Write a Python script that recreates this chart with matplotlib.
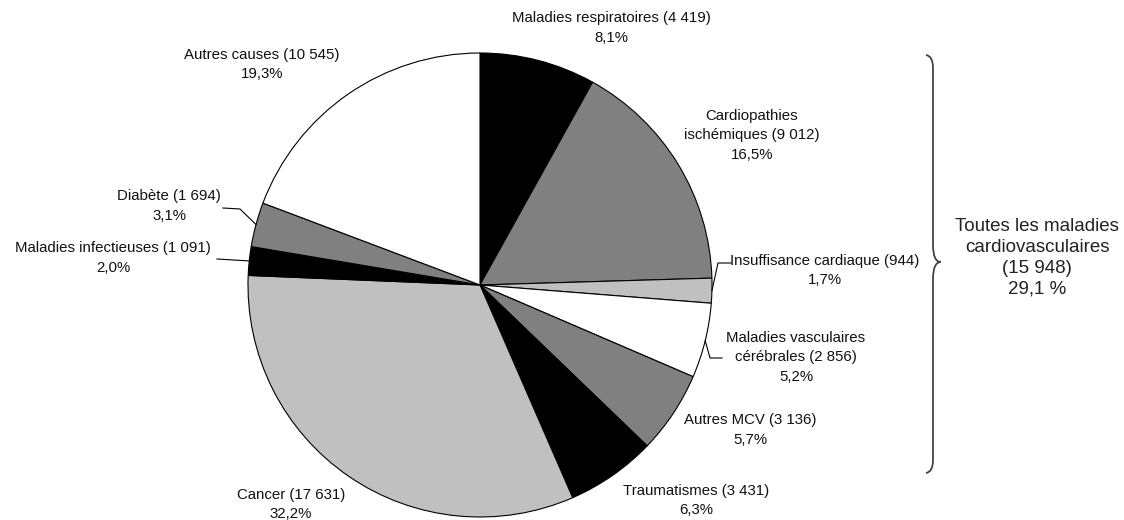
import numpy as np
import matplotlib
matplotlib.use('Agg')
from matplotlib import pyplot as plt
from matplotlib.path import Path
from matplotlib.patches import PathPatch

# data, clockwise from the top
causes = ['Maladies respiratoires', 'Cardiopathies\nischémiques', 'Insuffisance cardiaque',
          'Maladies vasculaires\ncérébrales', 'Autres MCV', 'Traumatismes', 'Cancer',
          'Maladies infectieuses', 'Diabète', 'Autres causes']
deaths = [4419, 9012, 944, 2856, 3136, 3431, 17631, 1091, 1694, 10545]
colors = ['#000000', '#808080', '#c0c0c0', '#ffffff', '#808080', '#000000', '#c0c0c0',
          '#000000', '#808080', '#ffffff']
cvd_total = '(15 948)'
cvd_pct = '29,1 %'

W, H = 1124, 520
fig = plt.figure(figsize=(W / 100, H / 100), dpi=100)
ax = fig.add_axes([0, 0, 1, 1])
ax.axis('off')

# pie geometry in pixels (y measured from top)
cx, cy, r = 480, 285, 232
wedges, _ = ax.pie(deaths, colors=colors, startangle=90, counterclock=False,
                   center=(cx, H - cy), radius=r,
                   wedgeprops=dict(edgecolor='black', linewidth=0.8))
ax.set_xlim(0, W)
ax.set_ylim(0, H)
ax.set_aspect('equal')

total = sum(deaths)

def fmt_num(v):
    return '{:,}'.format(v).replace(',', ' ')

def fmt_pct(v):
    return ('%.1f' % (100.0 * v / total)).replace('.', ',') + '%'

# label positions (x, y of first line centre, pixels from top)
label_pos = [(611, 20), (752, 118), (825, 263), (796, 340), (750, 422),
             (696, 493), (291, 497), (113, 250), (169, 198), (262, 57)]
for name, v, (lx, ly) in zip(causes, deaths, label_pos):
    txt = name + ' (' + fmt_num(v) + ')\n' + fmt_pct(v)
    ax.text(lx, H - ly + 9, txt, ha='center', va='top', fontsize=10.8,
            family='Liberation Sans', linespacing=1.5, color='#111111')

# leader lines for the small slices
leaders = {2: [(718, 263), (731, 263)],
           3: [(710, 358), (722, 358)],
           7: [(217, 259)],
           8: [(240, 209), (223, 208)]}
for i, pts in leaders.items():
    w = wedges[i]
    mid = np.deg2rad((w.theta1 + w.theta2) / 2)
    ex = cx + r * np.cos(mid)
    ey = (H - cy) + r * np.sin(mid)
    xs = [ex] + [p[0] for p in pts]
    ys = [ey] + [H - p[1] for p in pts]
    ax.plot(xs, ys, color='black', linewidth=0.8)

# curly brace for the cardiovascular group
verts = [(926, H - 55), (933, H - 56), (933, H - 68),
         (933, H - 245), (933, H - 262), (941, H - 262),
         (933, H - 262), (933, H - 279),
         (933, H - 460), (933, H - 472), (926, H - 473)]
codes = [Path.MOVETO, Path.CURVE3, Path.CURVE3,
         Path.LINETO, Path.CURVE3, Path.CURVE3,
         Path.CURVE3, Path.CURVE3,
         Path.LINETO, Path.CURVE3, Path.CURVE3]
ax.add_patch(PathPatch(Path(verts, codes), facecolor='none', edgecolor='#444444',
                       linewidth=1.3))

ax.text(1037, H - 258, 'Toutes les maladies\ncardiovasculaires\n' + cvd_total + '\n' + cvd_pct,
        ha='center', va='center', fontsize=13.5, family='Liberation Sans',
        linespacing=1.3, color='#222222')

fig.savefig('out.png', dpi=100)
